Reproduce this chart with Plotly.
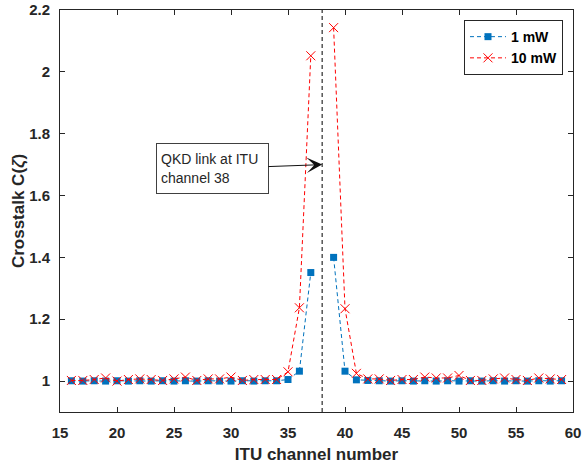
import plotly.graph_objects as go

# ITU channels 16..59; channel 38 carries the QKD link (no crosstalk value)
channels = list(range(16, 60))

crosstalk_1mw = [
    1.001, 1.000, 1.001, 1.000, 1.001, 1.000, 1.001, 1.000, 1.001, 1.000,
    1.001, 1.000, 1.001, 1.000, 1.000, 1.001, 1.000, 1.001, 1.001,
    1.005, 1.032, 1.351, None, 1.400, 1.032, 1.004,
    1.002, 1.001, 1.000, 1.001, 1.000, 1.001, 1.000, 1.001, 1.000,
    1.001, 1.000, 1.001, 1.000, 1.001, 1.000, 1.001, 1.000, 1.001,
]

crosstalk_10mw = [
    1.002, 1.002, 1.005, 1.010, 1.000, 1.005, 1.007, 1.005, 1.002, 1.007,
    1.013, 1.002, 1.007, 1.007, 1.013, 1.002, 1.005, 1.005, 1.005,
    1.030, 1.237, 2.052, None, 2.143, 1.234, 1.025,
    1.007, 1.007, 1.002, 1.005, 1.005, 1.013, 1.010, 1.010, 1.018,
    1.002, 1.002, 1.007, 1.010, 1.005, 1.002, 1.010, 1.007, 1.005,
]

qkd_channel = 38
arrow_level = 1.7

x_ticks = [15, 20, 25, 30, 35, 40, 45, 50, 55, 60]
y_ticks = [1, 1.2, 1.4, 1.6, 1.8, 2, 2.2]
y_tick_text = ["1", "1.2", "1.4", "1.6", "1.8", "2", "2.2"]

FONT = "Liberation Sans, Arial, sans-serif"
INK = "#262626"

fig = go.Figure()

fig.add_trace(go.Scatter(
    x=channels, y=crosstalk_1mw, name="<b>1 mW</b>",
    mode="lines+markers",
    line=dict(color="#0072BD", width=1, dash="4px,3px"),
    marker=dict(symbol="square", size=7, color="#0072BD"),
))

fig.add_trace(go.Scatter(
    x=channels, y=crosstalk_10mw, name="<b>10 mW</b>",
    mode="lines+markers",
    line=dict(color="#FF0000", width=1, dash="4px,3px"),
    marker=dict(symbol="x-thin", size=9, line=dict(color="#FF0000", width=1)),
))

# QKD channel marker line
fig.add_shape(
    type="line", xref="x", yref="paper",
    x0=qkd_channel, x1=qkd_channel, y0=0, y1=1,
    line=dict(color="#555555", width=1.5, dash="4px,3px"),
    layer="below",
)

fig.add_annotation(
    x=qkd_channel, y=arrow_level, xref="x", yref="y",
    ax=-110, ay=4, axref="pixel", ayref="pixel",
    text="QKD link at ITU<br>channel 38",
    align="left", showarrow=True,
    arrowhead=3, arrowsize=2.6, arrowwidth=1, arrowcolor="#111111",
    bordercolor="#404040", borderwidth=1, borderpad=4,
    bgcolor="white", width=103, height=41,
    font=dict(family=FONT, size=14, color=INK),
)

axis_common = dict(
    showgrid=False, zeroline=False, automargin=False,
    showline=True, linecolor=INK, linewidth=1, mirror="ticks",
    ticks="inside", ticklen=5, tickcolor=INK, tickwidth=1,
    ticklabeloverflow="allow",
    tickfont=dict(family=FONT, size=15, color=INK, weight="bold"),
)

fig.update_xaxes(
    range=[15, 60], tickvals=x_ticks, ticklabelstandoff=7,
    title=dict(text="<b>ITU channel number</b>", standoff=8,
               font=dict(family=FONT, size=17, color=INK)),
    **axis_common,
)
fig.update_yaxes(
    range=[0.9, 2.2], tickvals=y_ticks, ticktext=y_tick_text,
    ticklabelstandoff=6,
    title=dict(text="<b>Crosstalk C(<i>ζ</i>)</b>", standoff=0,
               font=dict(family=FONT, size=17, color=INK)),
    **axis_common,
)

fig.update_layout(
    width=584, height=466,
    margin=dict(l=60, r=11, t=10, b=54),
    paper_bgcolor="white", plot_bgcolor="white",
    legend=dict(
        x=0.9805, y=0.975, xanchor="right", yanchor="top",
        bgcolor="white", bordercolor=INK, borderwidth=1,
        font=dict(family=FONT, size=14, color="#000000"),
        itemwidth=36, tracegroupgap=0,
    ),
    showlegend=True,
)

fig.write_html("out.html")
